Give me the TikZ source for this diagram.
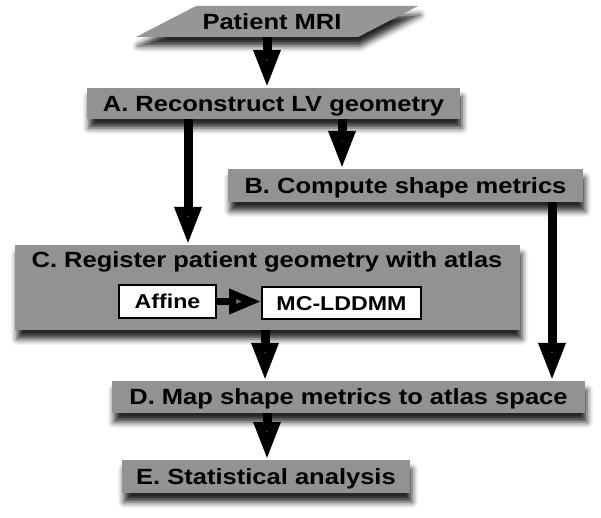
\documentclass[tikz,border=0pt]{standalone}
\usepackage{fontspec}
\newfontfamily\labfont[FakeStretch=1.16]{Liberation Sans}
\usetikzlibrary{arrows.meta,shadows.blur}
\definecolor{boxgray}{RGB}{146,146,146}
\definecolor{paragray}{RGB}{150,150,150}
\tikzset{
  myshadow/.style={blur shadow={shadow xshift=2pt, shadow yshift=-9pt, shadow blur radius=6pt, shadow opacity=85}},
  bigfont/.style={font=\labfont\bfseries\fontsize{22}{26}\selectfont, text height=15.75pt, text depth=0pt},
  procbox/.style={bigfont, fill=boxgray, inner sep=0pt, myshadow},
  subbox/.style={fill=white, draw=black, line width=2pt, inner sep=0pt,
    font=\labfont\bfseries\fontsize{20}{24}\selectfont, text height=14.3pt, text depth=0pt},
  bigarrow/.style={line width=9pt, -{Triangle[width=25pt,length=38pt]}},
  smallarrow/.style={line width=7pt, -{Triangle[width=24pt,length=32pt]}},
}
\begin{document}
\begin{tikzpicture}[x=1pt,y=-1pt]
\useasboundingbox (0,0) rectangle (601,518);
% input parallelogram
\fill[paragray, myshadow] (136,37) -- (358,37) -- (418,6) -- (196,6) -- cycle;
\node[bigfont, inner sep=0pt, minimum height=31pt] (mri) at (272,21.5) {Patient MRI};
% process boxes
\node[procbox, minimum width=373pt, minimum height=31pt] (a) at (273.5,103.5) {A. Reconstruct LV geometry};
\node[procbox, minimum width=355pt, minimum height=33pt] (b) at (405.5,185.5) {B. Compute shape metrics};
\node[procbox, minimum width=505pt, minimum height=85pt] (c) at (267.5,287.5) {};
\node[bigfont, inner sep=0pt] (ctitle) at (267,260) {C. Register patient geometry with atlas};
\node[subbox, minimum width=97pt, minimum height=33pt] (aff) at (167.5,301.5) {Affine};
\node[subbox, minimum width=159pt, minimum height=32pt] (mc) at (341.5,303) {MC-LDDMM};
\node[procbox, minimum width=473pt, minimum height=32pt] (d) at (348.5,397) {D. Map shape metrics to atlas space};
\node[procbox, minimum width=288pt, minimum height=33pt] (e) at (266,476.5) {E. Statistical analysis};
% arrow columns
\coordinate (k1) at (267,0);
\coordinate (k2) at (342,0);
\coordinate (k3) at (188,0);
\coordinate (k4) at (265,0);
\coordinate (k5) at (552,0);
\coordinate (k6) at (267,0);
% connectors
\draw[bigarrow] (mri.south -| k1) -- (a.north -| k1);
\draw[bigarrow] (a.south -| k2) -- (b.north -| k2);
\draw[bigarrow] (a.south -| k3) -- (c.north -| k3);
\draw[smallarrow] (aff.east) -- (mc.west |- aff.east);
\draw[bigarrow] (c.south -| k4) -- (d.north -| k4);
\draw[bigarrow] (b.south -| k5) -- (d.north -| k5);
\draw[bigarrow] (d.south -| k6) -- (e.north -| k6);
\end{tikzpicture}
\end{document}
